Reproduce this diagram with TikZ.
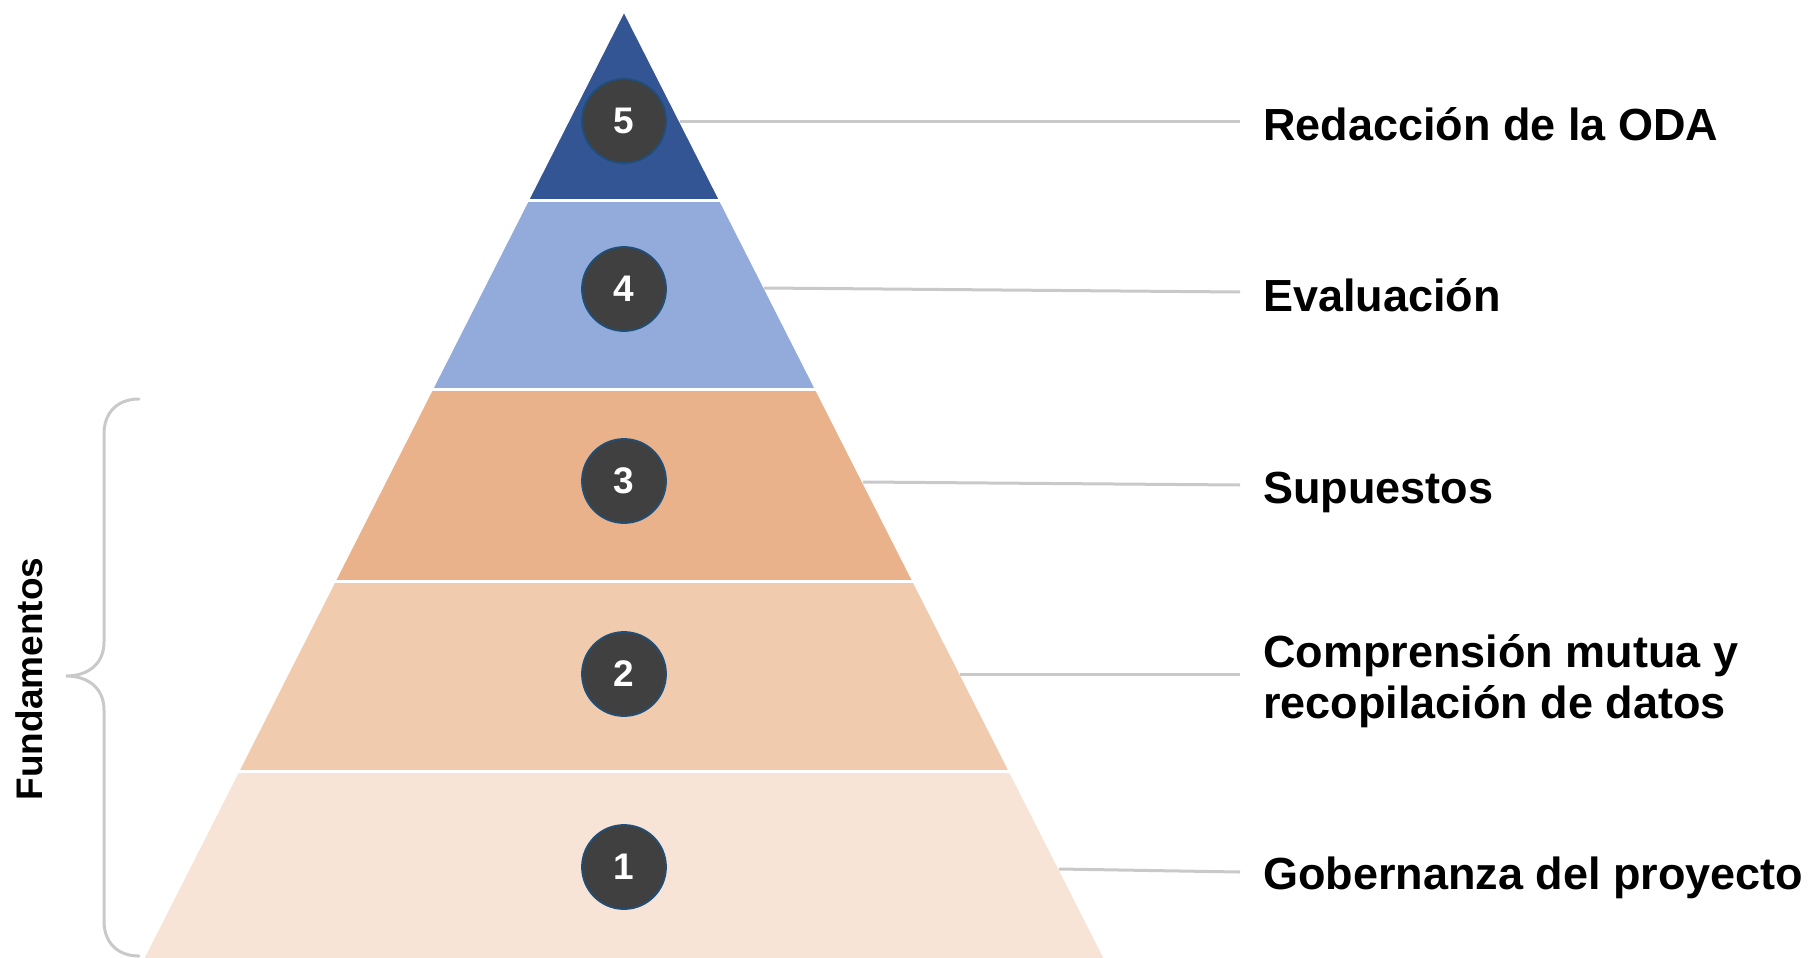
\documentclass[tikz,border=0pt]{standalone}
\usepackage{fontspec}
\setmainfont{Liberation Sans}
\definecolor{bandA}{HTML}{F8E4D6}
\definecolor{bandB}{HTML}{F0CBAE}
\definecolor{bandC}{HTML}{EAB28A}
\definecolor{bandD}{HTML}{93ABDA}
\definecolor{bandE}{HTML}{335593}
\definecolor{circfill}{HTML}{404040}
\definecolor{circedge}{HTML}{1F4E79}
\definecolor{leader}{HTML}{C9C9C9}
\tikzset{
  numcirc/.style={circle, minimum size=84pt, inner sep=0pt, fill=circfill, draw=circedge, line width=1.8pt,
    text=white, font=\fontsize{37}{40}\selectfont\bfseries},
  lbl/.style={anchor=base west, inner sep=0pt, font=\fontsize{45}{51}\selectfont\bfseries, text=black},
  leaderline/.style={draw=leader, line width=3pt},
  sep/.style={draw=white, line width=3pt},
}
\begin{document}
\begin{tikzpicture}[x=1pt,y=-1pt]
\useasboundingbox (0,0) rectangle (1812,958);
% bands
\fill[bandE] (624,12) -- (719.4,200) -- (528.6,200) -- cycle;
\fill[bandD] (528.6,200) -- (719.4,200) -- (815.3,389) -- (432.7,389) -- cycle;
\fill[bandC] (432.7,389) -- (815.3,389) -- (912.7,581) -- (335.3,581) -- cycle;
\fill[bandB] (335.3,581) -- (912.7,581) -- (1009.1,771) -- (238.9,771) -- cycle;
\fill[bandA] (238.9,771) -- (1009.1,771) -- (1104,958) -- (144,958) -- cycle;
\draw[sep] (520,200) -- (728,200);
\draw[sep] (424,389) -- (824,389);
\draw[sep] (326,581) -- (922,581);
\draw[sep] (230,771) -- (1018,771);
\draw[white, line width=1pt] (144,958) -- (624,12) -- (1104,958);
% circles
\node[numcirc] (c5) at (624,121) {5};
\node[numcirc] (c4) at (624,289) {4};
\node[numcirc] (c3) at (624,481) {3};
\node[numcirc] (c2) at (624,674) {2};
\node[numcirc] (c1) at (624,867) {1};
% leader coordinates
\coordinate (e5) at (680,121);  \coordinate (t5) at (1240,121);
\coordinate (e4) at (764,288);  \coordinate (t4) at (1240,292);
\coordinate (e3) at (863,482);  \coordinate (t3) at (1240,485);
\coordinate (e2) at (960,674);  \coordinate (t2) at (1240,674);
\coordinate (e1) at (1059,869); \coordinate (t1) at (1240,872);
\draw[leaderline] (e5) -- (t5);
\draw[leaderline] (e4) -- (t4);
\draw[leaderline] (e3) -- (t3);
\draw[leaderline] (e2) -- (t2);
\draw[leaderline] (e1) -- (t1);
% labels
\node[lbl] (l5) at (1263,140) {Redacción de la ODA};
\node[lbl] (l4) at (1263,311) {Evaluación};
\node[lbl] (l3) at (1263,503) {Supuestos};
\node[lbl] (l2) at (1263,667) {\vtop{\baselineskip=51pt\hbox{Comprensión mutua y}\hbox{recopilación de datos}}};
\node[lbl] (l1) at (1263,889) {Gobernanza del proyecto};
% brace
\draw[leader, line width=3pt, line cap=round]
  (139,399) .. controls (118,399) and (104,412) .. (104,434) -- (104,642)
  .. controls (104,664) and (88,676) .. (66,676)
  .. controls (88,676) and (104,688) .. (104,710) -- (104,921)
  .. controls (104,943) and (118,956) .. (139,956);
\node[rotate=90, inner sep=0pt, font=\fontsize{37}{40}\selectfont\bfseries] (fund) at (29,679) {Fundamentos};
\end{tikzpicture}
\end{document}
